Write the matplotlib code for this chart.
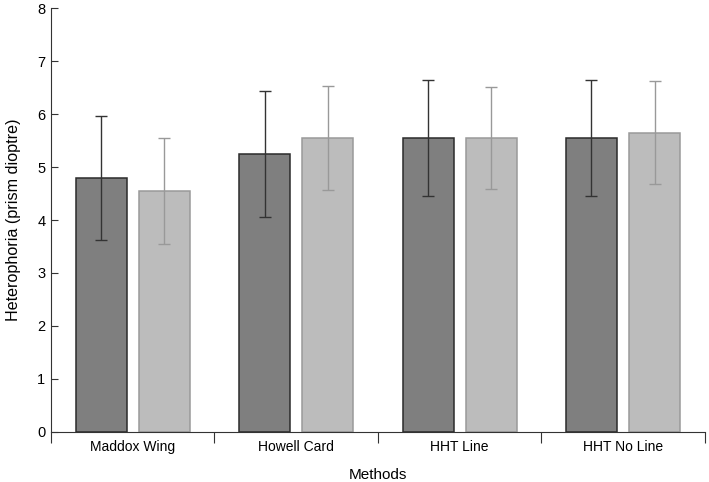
import numpy as np
import matplotlib.pyplot as plt

plt.rcParams['font.family'] = ['Liberation Sans', 'DejaVu Sans']

# values
methods = ['Maddox Wing', 'Howell Card', 'HHT Line', 'HHT No Line']
dark_means = [4.79, 5.25, 5.55, 5.55]
dark_err = [1.17, 1.19, 1.10, 1.10]
light_means = [4.55, 5.55, 5.55, 5.65]
light_err = [1.00, 0.99, 0.97, 0.97]

fig = plt.figure(figsize=(7.09, 4.82), dpi=100)
ax = fig.add_axes([0.072, 0.104, 0.922, 0.879])

x = np.arange(len(methods))
w = 0.312
off = 0.193

ax.bar(x - off, dark_means, w, color='#7f7f7f', edgecolor='#2b2b2b', linewidth=1.1)
ax.bar(x + off, light_means, w, color='#bcbcbc', edgecolor='#9a9a9a', linewidth=1.1)
ax.errorbar(x - off, dark_means, yerr=dark_err, fmt='none', ecolor='#333333',
            elinewidth=1, capsize=4, capthick=1)
ax.errorbar(x + off, light_means, yerr=light_err, fmt='none', ecolor='#999999',
            elinewidth=1, capsize=4, capthick=1)

ax.set_xlim(-0.5, len(methods) - 0.5)
ax.set_ylim(0, 8)
ax.spines['top'].set_visible(False)
ax.spines['right'].set_visible(False)
ax.spines['left'].set_color('#333333')
ax.spines['bottom'].set_color('#333333')

# separators between groups as major ticks, labels on minor ticks
ax.set_xticks(np.arange(len(methods) + 1) - 0.5)
ax.set_xticklabels([])
ax.tick_params(axis='x', which='major', direction='out', length=8, color='#333333')
ax.set_xticks(x, minor=True)
ax.set_xticklabels(methods, minor=True, fontsize=10)
ax.tick_params(axis='x', which='minor', length=0, pad=6)

ax.set_yticks(range(0, 9))
ax.tick_params(axis='y', direction='in', length=5, labelsize=10.5, color='#333333', pad=4)

ax.set_xlabel('Methods', fontsize=11, labelpad=10)
ax.set_ylabel('Heterophoria (prism dioptre)', fontsize=11.6, labelpad=12)

fig.savefig('out.png', dpi=100)
